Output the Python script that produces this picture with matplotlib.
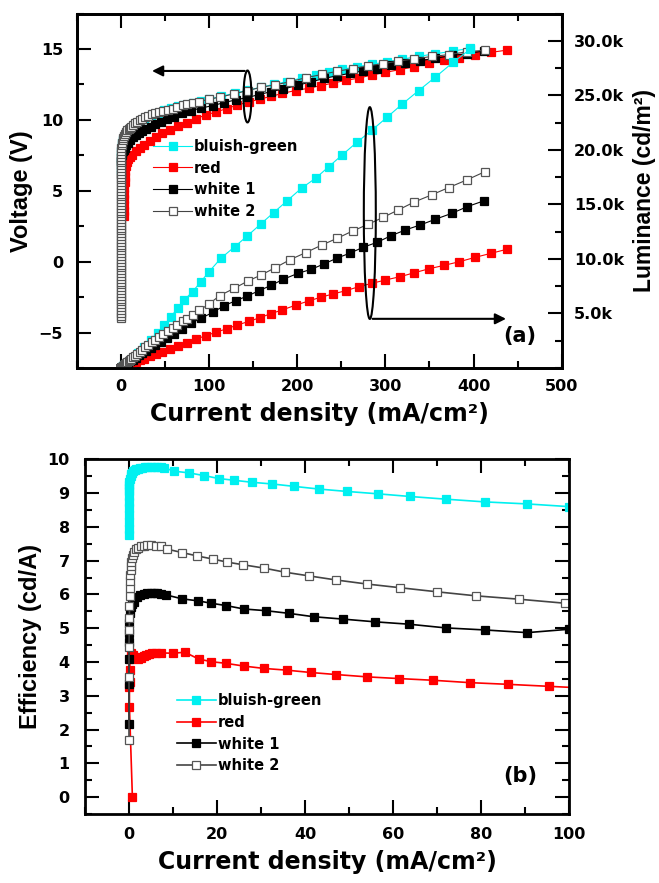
import matplotlib.pyplot as plt
from matplotlib.patches import Ellipse
from matplotlib.ticker import MultipleLocator, FixedLocator, FuncFormatter

plt.rcParams['font.family'] = 'DejaVu Sans'
plt.rcParams['font.weight'] = 'bold'
plt.rcParams['axes.labelweight'] = 'bold'

labels = ['bluish-green', 'red', 'white 1', 'white 2']

# (a) voltage + luminance vs current density (mA/cm2)
j_bg = [0.0, 0.0, 0.1, 0.3, 0.7, 1.4, 2.4, 3.8, 11.3, 18.9, 26.4, 34.0, 41.5, 49.0, 56.6, 64.2, 71.7,
        81.2, 90.6, 100.0, 113.3, 129.1, 143.5, 158.6, 173.2, 188.7, 204.8, 220.8, 235.9, 251.0,
        268.0, 285.0, 302.0, 319.0, 337.8, 356.7, 376.6, 396.4]
v_bg = [6.5, 7.0, 7.4, 7.8, 8.1, 8.35, 8.55, 8.75, 9.35, 9.75, 10.05, 10.3, 10.5, 10.68, 10.83, 10.97, 11.08,
        11.22, 11.35, 11.47, 11.65, 11.88, 12.08, 12.3, 12.5, 12.7, 12.95, 13.17, 13.38, 13.57,
        13.75, 13.92, 14.1, 14.28, 14.48, 14.66, 14.85, 15.05]
l_bg = [0, 0, 5, 20, 50, 110, 190, 300, 730, 1350, 1960, 2570, 3180, 3940, 4710, 5480, 6240,
        7000, 7920, 8840, 10060, 11130, 12120, 13210, 14250, 15350, 16490, 17400, 18470, 19540,
        20720, 21830, 23000, 24190, 25440, 26670, 28010, 29240]

j_red = [3.6, 3.7, 3.8, 3.8, 3.9, 3.9, 4.0, 4.2, 4.6, 5.3, 6.5, 8.0, 10.0, 12.5, 16.5, 21.0, 26.5, 32.5,
         39.5, 47.0, 55.5, 64.5, 74.5, 85.0, 96.3, 107.6, 120.0, 132.1, 145.3, 157.7, 169.9, 183.1,
         198.0, 213.0, 227.0, 241.0, 255.0, 270.0, 285.0, 300.0, 317.0, 333.0, 350.0, 367.0, 384.0,
         402.0, 420.0, 438.0]
v_red = [3.2, 3.6, 4.0, 4.4, 4.8, 5.2, 5.6, 6.0, 6.4, 6.75, 7.05, 7.25, 7.4, 7.55, 7.8, 8.0, 8.2, 8.5,
         8.8, 9.05, 9.3, 9.55, 9.8, 10.08, 10.35, 10.55, 10.8, 11.05, 11.27, 11.47, 11.65, 11.87,
         12.07, 12.23, 12.42, 12.6, 12.78, 12.95, 13.17, 13.35, 13.55, 13.75, 13.98, 14.2, 14.38,
         14.6, 14.76, 14.92]
l_red = [0, 0, 0, 0, 0, 0, 5, 15, 40, 150, 210, 270, 340, 420, 550, 700, 870, 1060,
         1280, 1510, 1770, 2040, 2340, 2650, 2970, 3280, 3600, 3950, 4280, 4620, 4980, 5330,
         5760, 6150, 6500, 6800, 7090, 7460, 7770, 8070, 8380, 8740, 9110, 9420, 9750,
         10150, 10520, 10890]

j_w1 = [0.0, 0.0, 0.1, 0.2, 0.6, 1.2, 2.0, 3.0, 4.4, 6.0, 8.0, 10.5, 13.2, 16.5, 20.0, 24.0, 28.5,
        33.5, 39.0, 45.0, 52.0, 60.0, 69.0, 79.3, 90.6, 104.5, 117.0, 130.2, 143.5, 156.6, 170.6,
        184.2, 200.8, 215.8, 230.2, 244.6, 259.3, 274.8, 290.7, 305.8, 322.7, 339.7, 356.7, 375.6,
        393.0, 411.5]
v_w1 = [6.2, 6.8, 7.1, 7.3, 7.5, 7.65, 7.8, 7.9, 8.02, 8.2, 8.4, 8.6, 8.79, 8.93, 9.07, 9.24, 9.38,
        9.53, 9.71, 9.88, 10.05, 10.23, 10.45, 10.65, 10.83, 11.01, 11.22, 11.41, 11.58, 11.78, 12.0,
        12.17, 12.45, 12.68, 12.92, 13.1, 13.28, 13.46, 13.62, 13.85, 14.02, 14.18, 14.34, 14.54,
        14.67, 14.86]
l_w1 = [0, 0, 3, 7, 30, 68, 119, 181, 266, 364, 484, 630, 781, 965, 1150, 1368, 1602,
        1853, 2118, 2408, 2746, 3120, 3554, 4100, 4560, 5110, 5720, 6170, 6610, 7090, 7590,
        8140, 8680, 9050, 9540, 10060, 10520, 11070, 11530, 12110, 12660, 13120, 13640, 14190,
        14800, 15320]

# white 2: voltages measured while J stays at ~0
v_w2_onset = [-4.0, -3.8, -3.6, -3.4, -3.2, -3.0, -2.8, -2.6, -2.4, -2.2, -2.0, -1.8, -1.6, -1.4,
              -1.2, -1.0, -0.8, -0.6, -0.4, -0.2, 0.0, 0.2, 0.4, 0.6, 0.8, 1.0, 1.2, 1.4, 1.6, 1.8,
              2.0, 2.2, 2.4, 2.6, 2.8, 3.0, 3.2, 3.4, 3.6, 3.8, 4.0, 4.2, 4.4, 4.6, 4.8, 5.0, 5.2,
              5.4, 5.6, 5.8, 6.0, 6.2, 6.4, 6.6, 6.8, 7.0, 7.2, 7.4, 7.6, 7.8]
j_w2 = [0.3, 0.7, 1.2, 1.9, 2.6, 3.4, 4.4, 5.7, 7.0, 8.5, 10.0, 11.3, 13.5, 16.0, 18.5, 21.0, 24.0,
        27.5, 31.0, 35.0, 39.0, 43.4, 48.0, 53.0, 58.5, 64.0, 70.0, 75.0, 81.2, 89.0, 99.3, 112.0,
        128.5, 144.0, 159.0, 175.0, 192.0, 209.5, 228.0, 245.4, 263.0, 280.5, 297.8, 314.8, 333.0,
        352.4, 371.7, 392.5, 413.2]
v_w2 = [8.0, 8.2, 8.4, 8.56, 8.72, 8.87, 9.0, 9.14, 9.26, 9.36, 9.44, 9.5, 9.62, 9.76, 9.88, 9.98, 10.08,
        10.18, 10.29, 10.38, 10.47, 10.55, 10.63, 10.7, 10.8, 10.92, 11.03, 11.1, 11.18, 11.28, 11.45, 11.6,
        11.84, 12.07, 12.3, 12.47, 12.69, 12.97, 13.2, 13.43, 13.62, 13.81, 13.97, 14.14, 14.3,
        14.47, 14.6, 14.8, 14.91]
l_w2 = [17, 46, 84, 137, 190, 250, 326, 423, 519, 627, 733, 823, 972, 1139, 1304, 1470, 1663,
        1884, 2102, 2345, 2574, 2830, 3096, 3376, 3674, 3968, 4270, 4530, 4860, 5300, 5840, 6640,
        7310, 7980, 8530, 9200, 9940, 10580, 11280, 11900, 12570, 13180, 13830, 14500, 15230,
        15870, 16540, 17250, 18010]

# (b) efficiency (cd/A) vs current density
je_bg = [0.0, 0.0, 0.0, 0.0, 0.0, 0.0, 0.0, 0.0, 0.0, 0.05, 0.1, 0.2, 0.35, 0.5, 0.7, 0.95, 1.25, 1.6,
         2.0, 2.5, 3.0, 3.6, 4.2, 4.9, 5.6, 6.4, 7.2, 8.0, 10.2, 13.6, 17.0, 20.5, 23.9, 28.0, 32.6,
         37.5, 43.2, 49.5, 56.5, 63.9, 72.1, 80.9, 90.5, 100.0]
eff_bg = [7.75, 7.95, 8.15, 8.35, 8.55, 8.75, 8.9, 9.05, 9.15, 9.25, 9.33, 9.42, 9.5, 9.56, 9.61, 9.65,
          9.68, 9.7, 9.72, 9.74, 9.75, 9.76, 9.77, 9.77, 9.77, 9.77, 9.76, 9.75, 9.65, 9.6, 9.52, 9.43,
          9.38, 9.32, 9.27, 9.2, 9.12, 9.05, 8.98, 8.9, 8.82, 8.74, 8.68, 8.6]

je_red = [0.77, 0.1, 0.1, 0.12, 0.15, 0.25, 0.55, 1.0, 1.5, 2.1, 2.7, 3.3, 3.8, 4.5, 5.3, 6.2, 7.2,
          10.0, 12.7, 15.8, 18.7, 22.1, 26.1, 30.7, 35.8, 41.3, 47.0, 54.2, 61.4, 69.1, 77.4, 86.1,
          95.5, 105.0]
eff_red = [0.0, 2.67, 3.26, 3.4, 3.75, 4.1, 4.26, 4.2, 4.15, 4.1, 4.12, 4.17, 4.2, 4.23, 4.26, 4.27,
           4.27, 4.26, 4.29, 4.09, 4.01, 3.96, 3.88, 3.81, 3.76, 3.69, 3.63, 3.56, 3.51, 3.46, 3.39,
           3.34, 3.28, 3.22]

je_w1 = [0.0, 0.0, 0.0, 0.0, 0.05, 0.1, 0.2, 0.35, 0.6, 1.1, 1.9, 2.6, 3.4, 4.1, 4.9, 5.6, 6.4, 7.2,
         8.3, 12.1, 15.7, 18.7, 22.1, 26.1, 31.1, 36.4, 42.0, 48.7, 55.9, 63.6, 72.0, 80.8, 90.5, 100.0]
eff_w1 = [2.18, 3.36, 4.1, 4.6, 4.85, 5.15, 5.44, 5.62, 5.72, 5.79, 5.93, 5.98, 6.01, 6.03, 6.04, 6.04,
          6.03, 6.01, 5.99, 5.87, 5.81, 5.74, 5.67, 5.57, 5.52, 5.44, 5.34, 5.27, 5.19, 5.12, 5.01,
          4.95, 4.87, 4.97]

je_w2 = [0.0, 0.0, 0.0, 0.05, 0.1, 0.1, 0.15, 0.2, 0.25, 0.3, 0.35, 0.45, 0.55, 0.7, 0.9, 1.2, 1.6,
         2.1, 2.7, 3.4, 4.2, 5.1, 6.1, 7.2, 8.7, 12.1, 15.5, 19.0, 22.2, 25.9, 30.7, 35.4, 40.9,
         47.0, 54.0, 61.6, 69.9, 78.8, 88.6, 99.1, 109.0]
eff_w2 = [1.70, 3.56, 4.45, 4.95, 5.3, 5.67, 5.95, 6.2, 6.4, 6.58, 6.72, 6.85, 6.97, 7.08, 7.18, 7.27,
          7.34, 7.39, 7.42, 7.44, 7.45, 7.45, 7.44, 7.42, 7.34, 7.24, 7.14, 7.05, 6.96, 6.88, 6.78,
          6.66, 6.55, 6.43, 6.31, 6.2, 6.08, 5.96, 5.86, 5.74, 5.62]

j_w2_all = [0.0] * len(v_w2_onset) + j_w2
v_w2_all = v_w2_onset + v_w2
l_w2_all = [0] * len(v_w2_onset) + l_w2

cyan = '#00F0F0'
sty = [
    dict(color=cyan, mfc=cyan, mec=cyan),
    dict(color='red', mfc='red', mec='red'),
    dict(color='black', mfc='black', mec='black'),
    dict(color='#444444', mfc='white', mec='#555555'),
]

fig = plt.figure(figsize=(6.59, 8.83), dpi=100)
ax = fig.add_axes([0.1168, 0.5832, 0.7355, 0.4015])
ax2 = ax.twinx()
bx = fig.add_axes([0.129, 0.0781, 0.7344, 0.4017])

top_v = [(j_bg, v_bg), (j_red, v_red), (j_w1, v_w1), (j_w2_all, v_w2_all)]
top_l = [(j_bg, l_bg), (j_red, l_red), (j_w1, l_w1), (j_w2_all, l_w2_all)]
handles = []
for (x, y), s, lab in zip(top_v, sty, labels):
    h, = ax.plot(x, y, '-', lw=0.8, marker='s', ms=5.6, mew=0.9, label=lab, **s)
    handles.append(h)
for (x, y), s in zip(top_l, sty):
    ax2.plot(x, y, '-', lw=0.8, marker='s', ms=5.6, mew=0.9, **s)

ax.set_xlim(-50, 500)
ax.set_ylim(-7.5, 17.5)
ax2.set_ylim(0, 32500)
ax.xaxis.set_major_locator(MultipleLocator(100))
ax.xaxis.set_minor_locator(MultipleLocator(50))
ax.yaxis.set_major_locator(MultipleLocator(5))
ax.yaxis.set_minor_locator(MultipleLocator(2.5))
ax2.yaxis.set_major_locator(FixedLocator([5000, 10000, 15000, 20000, 25000, 30000]))
ax2.yaxis.set_minor_locator(MultipleLocator(2500))
ax2.yaxis.set_major_formatter(FuncFormatter(lambda v, p: f'{v/1000:.1f}k'))

ax.tick_params(which='both', direction='in', top=True, right=False, width=1.5, labelsize=11.5)
ax.tick_params(which='major', length=10)
ax.tick_params(which='minor', length=5)
ax.tick_params(axis='y', pad=10)
ax.tick_params(axis='x', pad=8)
ax2.tick_params(which='both', direction='in', width=1.5, labelsize=11.5, pad=9)
ax2.tick_params(which='major', length=10)
ax2.tick_params(which='minor', length=5)
for a in (ax, ax2, bx):
    for sp in a.spines.values():
        sp.set_linewidth(2)

ax.set_xlabel('Current density (mA/cm²)', fontsize=17, fontweight='bold', labelpad=6)
ax.set_ylabel('Voltage (V)', fontsize=17, family='Liberation Sans', fontweight='bold', labelpad=4)
ax2.set_ylabel('Luminance (cd/m²)', fontsize=16.5, family='Liberation Sans', fontweight='bold',
               labelpad=6)

# guide ellipses and arrows
ax.add_patch(Ellipse((143.5, 11.65), width=9, height=3.66, fill=False, lw=1.5, ec='k', zorder=5))
ax.annotate('', xy=(32, 13.45), xytext=(143.5, 13.45),
            arrowprops=dict(arrowstyle='-|>', lw=1.5, color='k', mutation_scale=16))
ax2.add_patch(Ellipse((282.3, 3.43), width=13.6, height=14.93, fill=False, lw=1.5, ec='k',
                      transform=ax.transData, zorder=5))
ax2.annotate('', xy=(440, -4.03), xytext=(282.3, -4.03), xycoords=ax.transData,
             textcoords=ax.transData,
             arrowprops=dict(arrowstyle='-|>', lw=1.5, color='k', mutation_scale=16))

ax2.legend(handles, labels, loc='upper left', bbox_to_anchor=(0.157, 0.646), frameon=False,
           fontsize=10.5, handlelength=2.7, handletextpad=0.1, labelspacing=0.45,
           borderpad=0, borderaxespad=0)
ax.text(0.914, 0.09, '(a)', transform=ax.transAxes, fontsize=15, ha='center', va='center')

# bottom panel
bot = [(je_bg, eff_bg), (je_red, eff_red), (je_w1, eff_w1), (je_w2, eff_w2)]
for (x, y), s, lab in zip(bot, sty, labels):
    bx.plot(x, y, '-', lw=1.2, marker='s', ms=5.6, mew=0.9, label=lab, **s)

bx.set_xlim(-10, 100)
bx.set_ylim(-0.5, 10)
bx.xaxis.set_major_locator(MultipleLocator(20))
bx.xaxis.set_minor_locator(MultipleLocator(10))
bx.yaxis.set_major_locator(MultipleLocator(1))
bx.yaxis.set_minor_locator(MultipleLocator(0.5))
bx.tick_params(which='both', direction='in', top=True, right=True, width=1.5, labelsize=11.5)
bx.tick_params(which='major', length=10)
bx.tick_params(which='minor', length=5)
bx.tick_params(axis='y', pad=11)
bx.tick_params(axis='x', pad=9)
bx.set_xlabel('Current density (mA/cm²)', fontsize=17, fontweight='bold', labelpad=6)
bx.set_ylabel('Efficiency (cd/A)', fontsize=17, family='Liberation Sans', fontweight='bold',
              labelpad=4)
bx.legend(loc='upper left', bbox_to_anchor=(0.1895, 0.340), frameon=False,
          fontsize=10.5, handlelength=2.7, handletextpad=0.1, labelspacing=0.45,
          borderpad=0, borderaxespad=0)
bx.text(0.899, 0.107, '(b)', transform=bx.transAxes, fontsize=15, ha='center', va='center')

fig.savefig('out.png', dpi=100)
